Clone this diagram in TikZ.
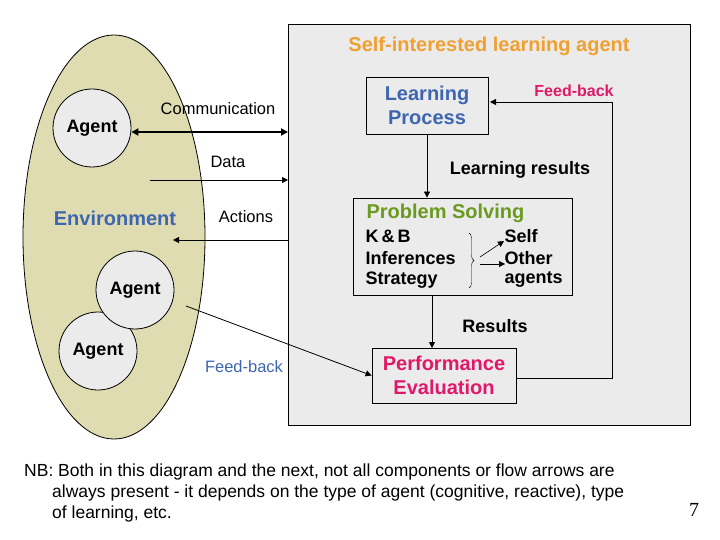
\documentclass[tikz,border=0pt]{standalone}
\usepackage{fontspec}
\setmainfont{Liberation Sans}
\newfontfamily\serifnum{Liberation Serif}
\usetikzlibrary{arrows.meta,decorations.pathreplacing}
\definecolor{envfill}{HTML}{DEDCB0}
\definecolor{boxgray}{HTML}{EBEBEB}
\definecolor{ttl}{HTML}{F0A030}
\definecolor{blu}{HTML}{3E66B0}
\definecolor{pnk}{HTML}{E0186A}
\definecolor{grn}{HTML}{6A9A20}
\tikzset{
 agent/.style={circle,draw,thick,fill=boxgray,minimum size=78pt,inner sep=0pt,font=\bfseries\fontsize{18}{20}\selectfont},
 pbox/.style={draw,thick,fill=boxgray,align=center},
 lbl/.style={font=\fontsize{16.5}{19}\selectfont},
 blbl/.style={font=\bfseries\fontsize{18}{20}\selectfont},
 arr/.style={-{Triangle[length=6pt,width=6pt]},thick},
}
\begin{document}
\begin{tikzpicture}[x=1pt,y=-1pt]
\useasboundingbox (0,0) rectangle (720,540);
\fill[white] (0,0) rectangle (720,540);
\node[draw,thick,fill=boxgray,minimum width=402pt,minimum height=401pt,anchor=north west,inner sep=0pt] (sys) at (288,24) {};
\draw[thick,fill=envfill] (114,237) ellipse [x radius=91,y radius=202];
\node[font=\bfseries\fontsize{20}{22}\selectfont,text=ttl] (title) at (489,46) {Self-interested learning agent};
\node[agent] (a1) at (92,128) {Agent};
\node[agent] (a3) at (98,351) {Agent};
\node[agent] (a2) at (135,290) {Agent};
\node[font=\bfseries\fontsize{20}{22}\selectfont,text=blu] (env) at (115,218) {Environment};
\coordinate (ce) at (288,132);
\draw[{Triangle[length=7pt,width=7pt]}-{Triangle[length=7pt,width=7pt]},line width=2pt] (a1.east|-ce) -- (ce);
\node[lbl] (comm) at (218,109) {Communication};
\coordinate (ds) at (150,180); \coordinate (de) at (288,180);
\draw[arr] (ds) -- (de);
\node[lbl] (data) at (228,162) {Data};
\coordinate (as) at (288,240); \coordinate (ae) at (173,240);
\draw[arr] (as) -- (ae);
\node[lbl] (act) at (246,217) {Actions};
\node[pbox,minimum width=122pt,minimum height=57pt,text=blu,font=\bfseries\fontsize{20}{24}\selectfont] (lp) at (427,105.5) {Learning\\Process};
\node[pbox,minimum width=219pt,minimum height=97pt] (ps) at (462.5,246.5) {};
\node[pbox,minimum width=144pt,minimum height=55pt,text=pnk,font=\bfseries\fontsize{20}{24}\selectfont] (pe) at (444,375.5) {Performance\\Evaluation};
\node[font=\bfseries\fontsize{20}{22}\selectfont,text=grn,anchor=west] (pst) at (363,213) {Problem Solving};
\node[blbl,anchor=west] (kb) at (362,236) {K\,\&\,B};
\node[blbl,anchor=west] (inf) at (362,258) {Inferences};
\node[blbl,anchor=west] (str) at (362,280) {Strategy};
\node[blbl,anchor=west] (slf) at (501,236) {Self};
\node[blbl,anchor=west] (oth) at (501,258) {Other};
\node[blbl,anchor=west] (ags) at (501,280) {agents};
\draw[decorate,decoration={brace,amplitude=5pt}] (469,233) -- (469,288);
\coordinate (b1) at (480,257); \coordinate (b2) at (480,264);
\draw[arr,semithick] (b1) -- (504,241);
\draw[arr,semithick] (b2) -- (505,264);
\draw[arr] (lp.south) -- (lp.south|-ps.north);
\node[blbl] (lr) at (520,170) {Learning results};
\draw[arr] (432,295) -- (432,348);
\node[blbl] (res) at (495,326) {Results};
\coordinate (r1) at (612,378); \coordinate (r2) at (612,102); \coordinate (r3) at (490,102);
\draw[arr] (pe.east|-r1) -- (r1) -- (r2) -- (r3);
\node[text=pnk,font=\bfseries\fontsize{16}{18}\selectfont] (fb1) at (574,91) {Feed-back};
\coordinate (fs) at (186,306);
\draw[arr] (fs) -- (pe.west);
\node[lbl,text=blu] (fb2) at (244,367) {Feed-back};
\node[anchor=north west,align=left,font=\fontsize{17.5}{21}\selectfont,inner sep=0pt] (nb) at (24,464) {NB: Both in this diagram and the next, not all components or flow arrows are\\\hspace*{28pt}always present - it depends on the type of agent (cognitive, reactive), type\\\hspace*{28pt}of learning, etc.};
\node[font=\serifnum\fontsize{20}{22}\selectfont] (pg) at (694,510) {7};
\end{tikzpicture}
\end{document}
